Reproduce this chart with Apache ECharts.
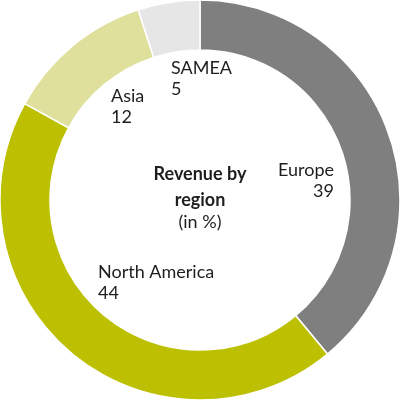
<!DOCTYPE html>
<html><head><meta charset="utf-8">
<script src="https://cdn.jsdelivr.net/npm/echarts@6/dist/echarts.min.js"></script>
<style>html,body{margin:0;padding:0;background:#fff}#c{width:400px;height:400px}</style>
</head><body><div id="c"></div>
<script>
const categories = ["Europe", "North America", "Asia", "SAMEA"];
const values = [39, 44, 12, 5];
const colors = ["#7f7f7f", "#bcc000", "#dfe09b", "#e6e6e6"];
const titleLines = ["Revenue by", "region"];
const subtitle = "(in %)";

const chart = echarts.init(document.getElementById('c'), null, {renderer: 'canvas'});
const font = 'Lato, sans-serif';
// label anchor positions (layout, not data)
const labelPos = [
  {x: 334, y: 160, align: 'right'},
  {x: 98, y: 262, align: 'left'},
  {x: 111, y: 86, align: 'left'},
  {x: 171, y: 58, align: 'left'}
];
const graphics = categories.map((c, i) => ({
  type: 'text', left: labelPos[i].align === 'right' ? null : labelPos[i].x,
  right: labelPos[i].align === 'right' ? 400 - labelPos[i].x : null,
  top: labelPos[i].y,
  style: {text: c + '\n' + values[i], fill: '#1e1e1e', font: '18px ' + font, lineHeight: 21, textAlign: labelPos[i].align}
}));
graphics.push({type: 'text', left: 'center', top: 161, style: {text: titleLines.join('\n'), fill: '#1e1e1e', font: 'bold 18px ' + font, lineHeight: 26, textAlign: 'center'}});
graphics.push({type: 'text', left: 'center', top: 213, style: {text: subtitle, fill: '#1e1e1e', font: '18px ' + font, textAlign: 'center'}});

chart.setOption({
  animation: false,
  series: [{
    type: 'pie', center: [200, 200], radius: [150, 200], startAngle: 90, clockwise: true,
    label: {show: false}, labelLine: {show: false},
    itemStyle: {borderColor: '#fff', borderWidth: 1.5},
    emphasis: {disabled: true},
    data: categories.map((c, i) => ({name: c, value: values[i], itemStyle: {color: colors[i]}}))
  }],
  graphic: graphics
});
</script></body></html>
